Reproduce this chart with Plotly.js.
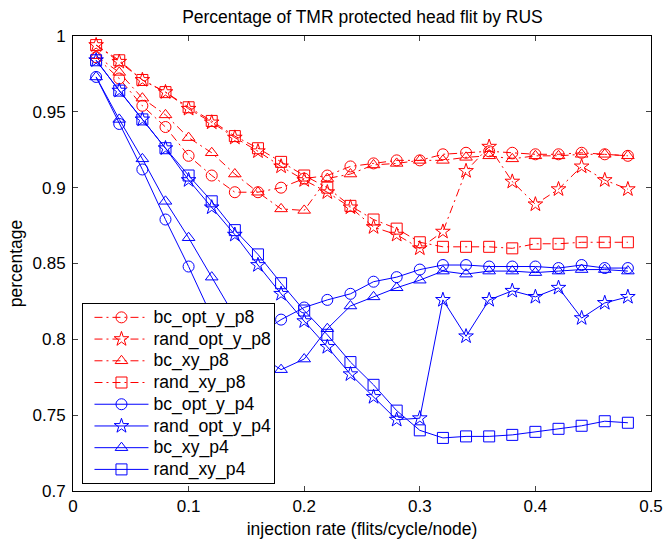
<!DOCTYPE html>
<html>
<head>
<meta charset="utf-8">
<script src="https://cdn.plot.ly/plotly-3.0.1.min.js"></script>
<style>html,body{margin:0;padding:0;background:#fff;}#chart{width:665px;height:539px;}</style>
</head>
<body>
<div id="chart"></div>
<script>
const injectionRate = [0.02,0.04,0.06,0.08,0.10,0.12,0.14,0.16,0.18,0.20,0.22,0.24,0.26,0.28,0.30,0.32,0.34,0.36,0.38,0.40,0.42,0.44,0.46,0.48];

const bc_opt_y_p8   = [0.986,0.972,0.954,0.940,0.921,0.908,0.897,0.897,0.900,0.906,0.908,0.914,0.916,0.918,0.918,0.922,0.923,0.924,0.923,0.922,0.922,0.923,0.922,0.921];
const rand_opt_y_p8 = [0.994,0.983,0.971,0.963,0.952,0.943,0.933,0.924,0.914,0.905,0.897,0.887,0.874,0.869,0.860,0.871,0.911,0.927,0.904,0.889,0.899,0.914,0.905,0.899];
const bc_xy_p8      = [0.987,0.976,0.959,0.948,0.933,0.923,0.909,0.897,0.886,0.885,0.906,0.909,0.915,0.916,0.918,0.918,0.920,0.921,0.919,0.921,0.921,0.922,0.922,0.921];
const rand_xy_p8    = [0.994,0.984,0.971,0.963,0.953,0.944,0.934,0.926,0.917,0.908,0.900,0.888,0.879,0.873,0.864,0.861,0.861,0.861,0.860,0.863,0.863,0.864,0.864,0.864];

const bc_opt_y_p4   = [0.973,0.942,0.912,0.879,0.848,0.815,0.797,0.803,0.813,0.821,0.826,0.830,0.838,0.841,0.846,0.849,0.849,0.848,0.848,0.848,0.847,0.849,0.847,0.847];
const rand_opt_y_p4 = [0.984,0.964,0.945,0.926,0.905,0.887,0.869,0.849,0.830,0.812,0.795,0.777,0.762,0.747,0.748,0.826,0.802,0.826,0.832,0.828,0.834,0.814,0.824,0.828];
const bc_xy_p4      = [0.973,0.945,0.919,0.891,0.867,0.841,0.815,0.790,0.780,0.787,0.807,0.822,0.828,0.834,0.839,0.845,0.843,0.845,0.845,0.844,0.845,0.846,0.846,0.845];
const rand_xy_p4    = [0.984,0.964,0.945,0.926,0.908,0.891,0.872,0.856,0.837,0.819,0.803,0.785,0.770,0.753,0.740,0.735,0.736,0.736,0.737,0.739,0.741,0.743,0.746,0.745];

const seriesNames = ['bc_opt_y_p8','rand_opt_y_p8','bc_xy_p8','rand_xy_p8','bc_opt_y_p4','rand_opt_y_p4','bc_xy_p4','rand_xy_p4'];
const seriesData = [bc_opt_y_p8, rand_opt_y_p8, bc_xy_p8, rand_xy_p8, bc_opt_y_p4, rand_opt_y_p4, bc_xy_p4, rand_xy_p4];
const symbols = ['circle-open','star-open','triangle-up-open','square-open','circle-open','star-open','triangle-up-open','square-open'];

const traces = seriesData.map((ys, i) => {
  const red = i < 4;
  const color = red ? '#ff0000' : '#0000ff';
  return {
    x: injectionRate, y: ys, name: seriesNames[i], type: 'scatter', mode: 'lines+markers',
    line: {color: color, width: 1, dash: red ? '8px,4px,2px,4px' : 'solid'},
    marker: {symbol: symbols[i], size: 11, color: color, line: {color: color, width: 1}}
  };
});

const layout = {
  width: 665, height: 539,
  margin: {l: 72.5, r: 14, t: 36, b: 48},
  paper_bgcolor: '#ffffff', plot_bgcolor: '#ffffff',
  font: {family: 'Liberation Sans, Arial, sans-serif', size: 17, color: '#000'},
  title: {text: 'Percentage of TMR protected head flit by RUS', x: 0.545, xanchor: 'center', y: 0.968, yanchor: 'middle', font: {size: 17.5}},
  showlegend: true,
  legend: {x: 0.0164, y: 0.0099, xanchor: 'left', yanchor: 'bottom', bgcolor: '#ffffff', bordercolor: '#000', borderwidth: 1, font: {size: 14.4}, itemwidth: 60},
  xaxis: {range: [0, 0.5], dtick: 0.1, tick0: 0, ticks: 'inside', ticklen: 5, mirror: 'allticks', showline: true, linecolor: '#000', linewidth: 1, showgrid: false, zeroline: false,
          title: {text: 'injection rate (flits/cycle/node)', standoff: 8, font: {size: 17.5}}, tickfont: {size: 17}},
  yaxis: {range: [0.7, 1], dtick: 0.05, tick0: 0.7, ticks: 'inside', ticklen: 5, mirror: 'allticks', showline: true, linecolor: '#000', linewidth: 1, showgrid: false, zeroline: false,
          ticklabelstandoff: 3,
          title: {text: 'percentage', standoff: 5, font: {size: 17.5}}, tickfont: {size: 17}}
};

Plotly.newPlot('chart', traces, layout, {displayModeBar: false, staticPlot: true}).then(gd => {
  // Legend styling to mimic the original figure: larger text and longer sample lines
  const legend = gd.querySelector('.legend');
  if (!legend) return;
  let maxW = 0;
  legend.querySelectorAll('.legendtext').forEach(t => {
    t.style.fontSize = '17.6px';
    const b = t.getBBox();
    maxW = Math.max(maxW, b.width);
  });
  legend.querySelectorAll('.legendlines path').forEach(p => p.setAttribute('d', 'M11,0h54'));
  legend.querySelectorAll('.legendpoints path').forEach(p => p.setAttribute('transform', 'translate(38,0)'));
  const sb = legend.querySelector('.scrollbox');
  if (sb) sb.removeAttribute('clip-path');
  const bg = legend.querySelector('rect.bg');
  if (bg) {
    bg.setAttribute('width', String(70 + maxW + 4));
    const y0 = parseFloat(bg.getAttribute('y') || '0');
    const h0 = parseFloat(bg.getAttribute('height') || '0');
    bg.setAttribute('y', String(y0 + 2.5));
    bg.setAttribute('height', String(h0 - 5));
  }
});
</script>
</body>
</html>
